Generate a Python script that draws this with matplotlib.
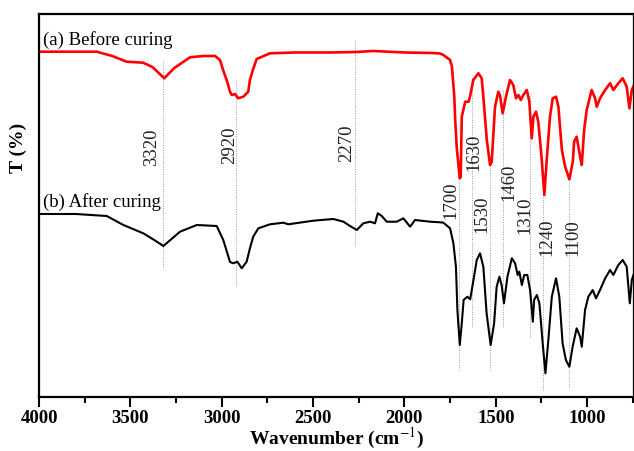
import matplotlib
matplotlib.use("Agg")
import matplotlib.pyplot as plt

plt.rcParams['font.family'] = ['Liberation Serif', 'DejaVu Serif']
plt.rcParams['mathtext.fontset'] = 'stix'

# (a) Before curing: wavenumber (cm-1) and transmittance (arbitrary units)
before_wn = [4000, 3850, 3685, 3600, 3521, 3431, 3380, 3315, 3260, 3174, 3100, 3037,
             3010, 2993, 2970, 2955, 2946, 2928, 2910, 2882, 2855, 2846, 2830, 2809,
             2736, 2600, 2400, 2261, 2172, 2000, 1850, 1805, 1787, 1750, 1740, 1727,
             1722, 1714, 1697, 1692, 1686, 1667, 1649, 1641, 1623, 1595, 1577, 1568,
             1549, 1531, 1522, 1504, 1486, 1477, 1462, 1444, 1422, 1404, 1389, 1376,
             1363, 1349, 1330, 1316, 1303, 1294, 1280, 1267, 1248, 1234, 1221, 1203,
             1188, 1170, 1157, 1138, 1120, 1097, 1078, 1071, 1057, 1038, 1029, 1016,
             1002, 975, 956, 947, 929, 901, 874, 856, 829, 805, 783, 768, 755, 743]
before_t = [345.3, 345.3, 345.3, 341, 335.3, 334.3, 330, 318.7, 329, 339.7, 341, 341,
            337, 327, 315, 305.3, 302, 303, 298.7, 300.3, 305.3, 317, 327, 338,
            343.7, 344.5, 344.5, 345, 346, 344.5, 344, 343.5, 342, 337, 330.3, 300.3,
            277, 250.3, 218.7, 220.3, 280.3, 295.3, 295.3, 300.3, 317, 323.7, 318.7, 300.3,
            257, 232, 235.3, 290.3, 305.3, 302, 283.7, 300.3, 317, 312, 298.7, 302,
            297, 302, 307, 295.3, 258.7, 280.3, 285.3, 275.3, 237, 202, 237, 280.3,
            298.7, 300.3, 290.3, 247, 230.3, 217.7, 235.3, 255.3, 260.3, 240.3, 232, 267,
            287, 307, 298.7, 290.3, 298.7, 307, 313.7, 307, 313.7, 318.7, 310.3, 288.7, 307, 312]

# (b) After curing
after_wn = [4000, 3800, 3630, 3539, 3430, 3370, 3320, 3229, 3137, 3028, 2992, 2955,
            2937, 2915, 2891, 2864, 2846, 2828, 2800, 2736, 2663, 2636, 2499, 2389,
            2334, 2298, 2261, 2225, 2188, 2161, 2146, 2124, 2097, 2042, 2006, 1969,
            1942, 1860, 1805, 1787, 1750, 1732, 1718, 1710, 1697, 1686, 1676, 1655,
            1640, 1622, 1604, 1586, 1568, 1550, 1528, 1509, 1495, 1480, 1468, 1455,
            1436, 1412, 1394, 1380, 1371, 1357, 1344, 1327, 1312, 1297, 1290, 1275,
            1261, 1243, 1228, 1212, 1193, 1170, 1152, 1134, 1116, 1097, 1079, 1057,
            1038, 1029, 1011, 993, 969, 951, 929, 901, 874, 856, 829, 805, 783, 766, 755, 743]
after_t = [183, 183, 181, 172, 163.7, 157, 151, 165.3, 172, 171, 157, 135,
           133.7, 135.3, 128.7, 135.3, 148.7, 160.3, 168.7, 172.7, 174.3, 172.7, 176.3, 178,
           175.3, 171, 167, 173.7, 175.3, 173.7, 183.7, 181, 175.3, 175.3, 178.7, 170.3,
           177, 175.3, 174.7, 174.3, 168.7, 153.7, 130.3, 87, 52, 73.7, 97, 100.3,
           97.7, 117, 137, 143.7, 130.3, 83.7, 52, 73.7, 110.3, 120.3, 112, 93.7,
           120.3, 138.7, 133.7, 122, 125.3, 112, 122, 122, 107, 75.3, 97, 102,
           93.7, 53.7, 23.7, 57, 100.3, 118.7, 100.3, 53.7, 37, 30.3, 50.3, 68.7,
           60.3, 50.3, 87, 100.3, 107, 98.7, 107, 118.7, 127, 122, 132, 137, 130.3, 93.7, 117, 123.7]

# Band assignments marked with dotted lines
band_labels = ['3320', '2920', '2270', '1700', '1630', '1530', '1460', '1310', '1240', '1100']
band_wn = [3320, 2920, 2270, 1700, 1630, 1530, 1460, 1310, 1240, 1100]

# layout of the dotted lines (T range) and labels (position)
line_span = {3320: (130, 337), 2920: (112, 317), 2270: (152, 357), 1700: (27, 217),
             1630: (70, 320), 1530: (27, 234), 1460: (70, 307), 1310: (60, 305),
             1240: (7, 204), 1100: (10, 217)}
label_pos = {3320: (3385, 249.5), 2920: (2959, 252), 2270: (2318, 253.7), 1700: (1746, 197),
             1630: (1619, 244.5), 1530: (1578, 182.5), 1460: (1427, 214.5), 1310: (1340, 182),
             1240: (1222, 159.5), 1100: (1077, 159.5)}

fig = plt.figure(figsize=(6.34, 4.51), dpi=100)
ax = fig.add_axes([0.0618, 0.1197, 0.9382, 0.8493])

for lab, wn in zip(band_labels, band_wn):
    y0, y1 = line_span[wn]
    ax.plot([wn, wn], [y0, y1], color='#999999', lw=0.7, ls=(0, (1, 1.5)), zorder=1)
    lx, ly = label_pos[wn]
    ax.text(lx, ly, lab, rotation=90, ha='center', va='center', fontsize=13.5,
            color='#222222', zorder=3)

ax.plot(before_wn, before_t, color='#ff0000', lw=1.9, zorder=2)
ax.plot(after_wn, after_t, color='black', lw=1.5, zorder=2)

ax.text(0.006, 0.931, '(a) Before curing', transform=ax.transAxes, ha='left', va='center',
        fontsize=13.5)
ax.text(0.006, 0.508, '(b) After curing', transform=ax.transAxes, ha='left', va='center',
        fontsize=13.5)

ax.set_xlim(4000, 743)
ax.set_ylim(0, 383)
ax.set_xticks([4000, 3500, 3000, 2500, 2000, 1500, 1000])
ax.set_xticks([3750, 3250, 2750, 2250, 1750, 1250, 750], minor=True)
ax.set_yticks([])
ax.tick_params(axis='x', which='major', direction='out', length=7, width=1.5, pad=2.5,
               labelsize=13.5)
ax.tick_params(axis='x', which='minor', direction='out', length=4, width=1.5)
for lbl in ax.get_xticklabels():
    lbl.set_fontweight('bold')
for sp in ax.spines.values():
    sp.set_linewidth(1.6)

ax.set_xlabel(r'Wavenumber (cm$^{-1}$)', fontsize=14, fontweight='bold', labelpad=-1)
fig.text(18 / 634, 1 - 148 / 451, 'T (%)', rotation=90, ha='center', va='center',
         fontsize=14, fontweight='bold')

fig.savefig('out.png', dpi=100)
